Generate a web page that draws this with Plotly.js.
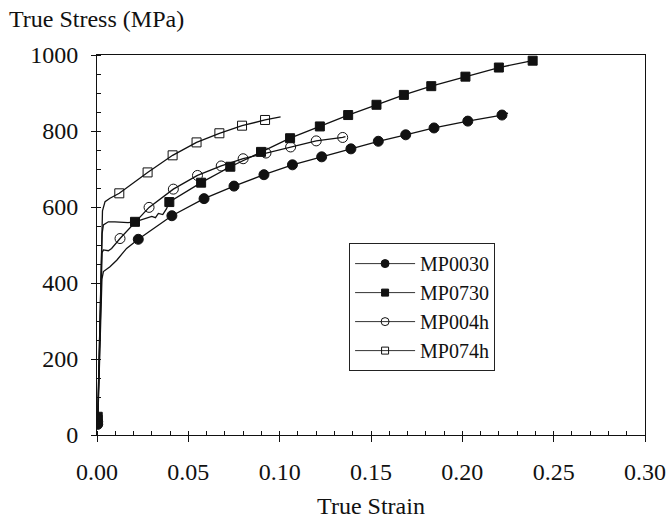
<!DOCTYPE html>
<html>
<head>
<meta charset="utf-8">
<script src="https://cdn.plot.ly/plotly-3.0.1.min.js"></script>
<style>html,body{margin:0;padding:0;background:#fff;}#chart{width:667px;height:519px;}</style>
</head>
<body>
<div id="chart"></div>
<script>
// Series names
var seriesNames = ["MP0030", "MP0730", "MP004h", "MP074h"];

// MP0030 curve
var mp0030LineX = [0.0004, 0.0012, 0.0020, 0.0027, 0.0035, 0.0071, 0.0108, 0.0162, 0.0226, 0.041, 0.0586, 0.075, 0.0914, 0.107, 0.123, 0.139, 0.154, 0.169, 0.1845, 0.203, 0.2217, 0.225];
var mp0030LineY = [28, 150, 300, 410, 430, 443, 460, 491, 515, 577, 622, 655, 685, 711, 732, 753, 773, 790, 808, 826, 842, 847];
var mp0030MarkX = [0.0004, 0.0226, 0.041, 0.0586, 0.075, 0.0914, 0.107, 0.123, 0.139, 0.154, 0.169, 0.1845, 0.203, 0.2217];
var mp0030MarkY = [28, 515, 577, 622, 655, 685, 711, 732, 753, 773, 790, 808, 826, 842];

// MP0730 curve
var mp0730LineX = [0.0004, 0.0015, 0.0028, 0.0035, 0.0062, 0.0098, 0.0144, 0.017, 0.0208, 0.026, 0.030, 0.032, 0.0336, 0.036, 0.038, 0.0396, 0.057, 0.073, 0.0898, 0.1057, 0.122, 0.1375, 0.153, 0.168, 0.183, 0.2017, 0.220, 0.2385];
var mp0730LineY = [48, 250, 530, 553, 561, 561, 559, 559, 561, 570, 575, 572, 583, 580, 595, 613, 664, 706, 745, 781, 812, 842, 869, 895, 918, 943, 967, 985];
var mp0730MarkX = [0.0004, 0.0208, 0.0396, 0.057, 0.073, 0.0898, 0.1057, 0.122, 0.1375, 0.153, 0.168, 0.183, 0.2017, 0.220, 0.2385];
var mp0730MarkY = [48, 561, 613, 664, 706, 745, 781, 812, 842, 869, 895, 918, 943, 967, 985];

// MP004h curve
var mp004hLineX = [0.0004, 0.0015, 0.0028, 0.0035, 0.0062, 0.008, 0.0126, 0.0285, 0.0418, 0.055, 0.068, 0.080, 0.0925, 0.106, 0.120, 0.1345, 0.136];
var mp004hLineY = [35, 270, 480, 487, 485, 491, 517, 599, 647, 683, 708, 727, 742, 758, 774, 783, 785];
var mp004hMarkX = [0.0004, 0.0126, 0.0285, 0.0418, 0.055, 0.068, 0.080, 0.0925, 0.106, 0.120, 0.1345];
var mp004hMarkY = [35, 517, 599, 647, 683, 708, 727, 742, 758, 774, 783];

// MP074h curve
var mp074hLineX = [0.0004, 0.0015, 0.003, 0.0044, 0.0071, 0.0122, 0.0277, 0.0414, 0.0545, 0.067, 0.0794, 0.092, 0.1005];
var mp074hLineY = [40, 300, 590, 614, 623, 636, 691, 736, 770, 794, 814, 829, 837];
var mp074hMarkX = [0.0004, 0.0122, 0.0277, 0.0414, 0.0545, 0.067, 0.0794, 0.092];
var mp074hMarkY = [40, 636, 691, 736, 770, 794, 814, 829];

// Axis ticks
var xTickVals = [0, 0.05, 0.10, 0.15, 0.20, 0.25, 0.30];
var xTickText = ["0.00", "0.05", "0.10", "0.15", "0.20", "0.25", "0.30"];
var yTickVals = [0, 200, 400, 600, 800, 1000];
var yTickText = ["0", "200", "400", "600", "800", "1000"];

var symbols = ["circle", "square", "circle-open", "square-open"];
var sizes = [10, 9, 10, 9];
var legendSizes = [8, 7, 8, 7];
var lines = [[mp0030LineX, mp0030LineY], [mp0730LineX, mp0730LineY], [mp004hLineX, mp004hLineY], [mp074hLineX, mp074hLineY]];
var marks = [[mp0030MarkX, mp0030MarkY], [mp0730MarkX, mp0730MarkY], [mp004hMarkX, mp004hMarkY], [mp074hMarkX, mp074hMarkY]];

var traces = [];
for (var i = 0; i < 4; i++) {
  traces.push({x: lines[i][0], y: lines[i][1], mode: "lines", type: "scatter",
    line: {color: "#111", width: 1.3}, showlegend: false, hoverinfo: "skip"});
  traces.push({x: marks[i][0], y: marks[i][1], mode: "markers", type: "scatter",
    marker: {symbol: symbols[i], size: sizes[i], color: "#111", line: {color: "#111", width: 1}},
    showlegend: false});
}
for (var j = 0; j < 4; j++) {
  traces.push({x: [null], y: [null], mode: "lines+markers", type: "scatter", name: seriesNames[j],
    line: {color: "#333", width: 1},
    marker: {symbol: symbols[j], size: legendSizes[j], color: "#111", line: {color: "#111", width: 1}}});
}

var fontFam = "Liberation Serif";
var layout = {
  width: 667, height: 519,
  margin: {l: 97, r: 22, t: 55, b: 84},
  paper_bgcolor: "#fff", plot_bgcolor: "#fff",
  font: {family: fontFam, size: 24, color: "#111"},
  showlegend: true,
  title: {text: "True Stress (MPa)", x: 9 / 667, xref: "container", xanchor: "left",
    y: 1 - 19 / 519, yref: "container", yanchor: "middle", font: {family: fontFam, size: 24, color: "#111"}},
  xaxis: {range: [0, 0.30], tickvals: xTickVals, ticktext: xTickText,
    showgrid: false, zeroline: false, showline: true, linecolor: "#111", linewidth: 1, mirror: true,
    ticks: "outside", ticklen: 6, tickcolor: "#111", ticklabelstandoff: 9,
    minor: {dtick: 0.01, tick0: 0, ticks: "inside", ticklen: 4, tickcolor: "#111", showgrid: false},
    title: {text: "True Strain", standoff: 20, font: {family: fontFam, size: 24}}},
  yaxis: {range: [0, 1000], tickvals: yTickVals, ticktext: yTickText,
    showgrid: false, zeroline: false, showline: true, linecolor: "#111", linewidth: 1, mirror: true,
    ticks: "outside", ticklen: 5, tickcolor: "#111", ticklabelstandoff: 8,
    minor: {dtick: 50, tick0: 0, ticks: "inside", ticklen: 4, tickcolor: "#111", showgrid: false}},
  legend: {x: 0.46, y: 0.505, xanchor: "left", yanchor: "top", bgcolor: "#fff",
    bordercolor: "#222", borderwidth: 1, font: {family: fontFam, size: 20, color: "#111"},
    tracegroupgap: 0, itemwidth: 60}
};

Plotly.newPlot("chart", traces, layout, {displayModeBar: false, staticPlot: true});
</script>
</body>
</html>
